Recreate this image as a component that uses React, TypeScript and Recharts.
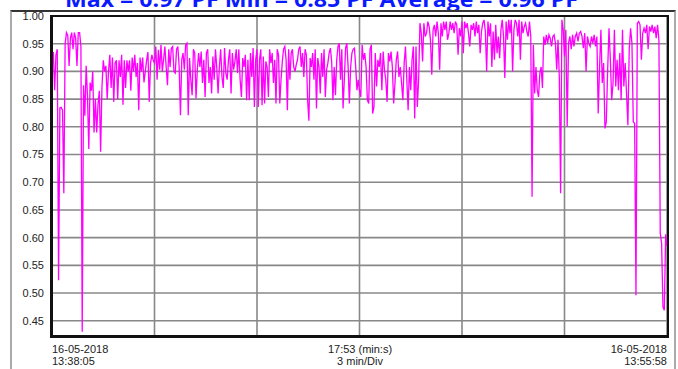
import { CartesianGrid, Line, LineChart, XAxis, YAxis } from "recharts";

// power factor readings, one array per 3 min division
const div0 = [
  0.92, 0.935, 0.866, 0.93, 0.94, 0.523, 0.834, 0.835, 0.83, 0.68, 0.95, 0.97, 0.965, 0.91, 0.96, 0.97,
  0.94, 0.97, 0.96, 0.91, 0.97, 0.97, 0.945, 0.43, 0.875, 0.82, 0.91, 0.855, 0.76, 0.88, 0.865, 0.9,
  0.79, 0.85, 0.79, 0.84, 0.865, 0.755, 0.87, 0.92, 0.9, 0.91, 0.85, 0.9, 0.93, 0.87, 0.925, 0.845,
  0.915, 0.92, 0.85, 0.92, 0.89, 0.93, 0.84, 0.92, 0.87, 0.92, 0.9, 0.92, 0.865, 0.925, 0.9, 0.93,
  0.89, 0.915, 0.83, 0.925, 0.9, 0.925, 0.88, 0.9, 0.92, 0.935, 0.845, 0.915, 0.93, 0.92,
];
const div1 = [
  0.915, 0.945, 0.885, 0.939, 0.903, 0.948, 0.9, 0.921, 0.945, 0.908, 0.875, 0.94, 0.908, 0.942, 0.945, 0.9,
  0.897, 0.94, 0.945, 0.908, 0.821, 0.921, 0.933, 0.903, 0.948, 0.951, 0.821, 0.924, 0.885, 0.857, 0.94, 0.933,
  0.851, 0.903, 0.933, 0.908, 0.936, 0.879, 0.921, 0.854, 0.933, 0.94, 0.879, 0.908, 0.86, 0.927, 0.885, 0.94,
  0.906, 0.86, 0.908, 0.94, 0.89, 0.87, 0.942, 0.897, 0.885, 0.921, 0.94, 0.86, 0.933, 0.903, 0.918, 0.94,
  0.897, 0.94, 0.885, 0.854, 0.924, 0.908, 0.93, 0.848, 0.921, 0.848, 0.933, 0.89, 0.942, 0.836, 0.921,
];
const div2 = [
  0.94, 0.836, 0.921, 0.94, 0.839, 0.927, 0.842, 0.918, 0.908, 0.854, 0.94, 0.915, 0.933, 0.879, 0.921, 0.842,
  0.94, 0.93, 0.842, 0.885, 0.918, 0.94, 0.945, 0.921, 0.83, 0.94, 0.885, 0.933, 0.94, 0.908, 0.9, 0.912,
  0.921, 0.94, 0.945, 0.908, 0.933, 0.89, 0.94, 0.93, 0.848, 0.811, 0.924, 0.908, 0.933, 0.885, 0.94, 0.833,
  0.924, 0.908, 0.86, 0.933, 0.89, 0.94, 0.854, 0.903, 0.915, 0.933, 0.942, 0.918, 0.848, 0.908, 0.857, 0.921,
  0.945, 0.951, 0.885, 0.94, 0.833, 0.885, 0.942, 0.951, 0.908, 0.842, 0.908, 0.933, 0.94, 0.942, 0.908, 0.866,
  0.885,
];
const div3 = [
  0.866, 0.854, 0.948, 0.921, 0.933, 0.908, 0.848, 0.842, 0.94, 0.948, 0.824, 0.836, 0.933, 0.873, 0.921, 0.908,
  0.933, 0.866, 0.936, 0.903, 0.885, 0.845, 0.933, 0.918, 0.936, 0.908, 0.842, 0.879, 0.921, 0.936, 0.89, 0.908,
  0.879, 0.848, 0.915, 0.945, 0.885, 0.83, 0.908, 0.866, 0.921, 0.945, 0.815, 0.945, 0.836, 0.885, 0.987, 0.969,
  0.918, 0.987, 0.963, 0.969, 0.99, 0.981, 0.957, 0.894, 0.975, 0.984, 0.963, 0.99, 0.969, 0.903, 0.987, 0.963,
  0.99, 0.975, 0.99, 0.957, 0.969, 0.99, 0.975, 0.987, 0.969, 0.99, 0.984, 0.93, 0.978, 0.963,
];
const div4 = [
  0.99, 0.933, 0.99, 0.978, 0.987, 0.969, 0.945, 0.984, 0.975, 0.987, 0.963, 0.99, 0.969, 0.984, 0.933, 0.972,
  0.987, 0.993, 0.972, 0.9, 0.99, 0.963, 0.987, 0.908, 0.972, 0.921, 0.984, 0.933, 0.963, 0.924, 0.975, 0.993,
  0.963, 0.888, 0.99, 0.957, 0.993, 0.969, 0.993, 0.9, 0.975, 0.993, 0.987, 0.963, 0.993, 0.921, 0.99, 0.969,
  0.981, 0.987, 0.972, 0.963, 0.99, 0.963, 0.674, 0.948, 0.86, 0.908, 0.866, 0.854, 0.897, 0.908, 0.87, 0.963,
  0.948, 0.966, 0.951, 0.966, 0.96, 0.945, 0.963, 0.966, 0.951, 0.903, 0.957, 0.89, 0.68, 0.993, 0.975,
];
const div5 = [
  0.927, 0.975, 0.8, 0.951, 0.963, 0.94, 0.966, 0.945, 0.963, 0.969, 0.954, 0.969, 0.972, 0.963, 0.942, 0.969,
  0.9, 0.963, 0.951, 0.945, 0.963, 0.951, 0.966, 0.945, 0.963, 0.824, 0.908, 0.975, 0.879, 0.915, 0.797, 0.809,
  0.903, 0.978, 0.921, 0.848, 0.879, 0.975, 0.873, 0.921, 0.866, 0.933, 0.848, 0.975, 0.873, 0.915, 0.86, 0.803,
  0.94, 0.978, 0.951, 0.809, 0.806, 0.496, 0.987, 0.99, 0.984, 0.921, 0.969, 0.978, 0.969, 0.984, 0.94, 0.981,
  0.972, 0.984, 0.969, 0.981, 0.96, 0.984, 0.957, 0.608, 0.59, 0.475, 0.469, 0.606, 0.585,
];
const divisions = [div0, div1, div2, div3, div4, div5];

const yTicks = [0.45, 0.5, 0.55, 0.6, 0.65, 0.7, 0.75, 0.8, 0.85, 0.9, 0.95, 1.0];
const xTicks = [0, 1, 2, 3, 4, 5, 6];

const title = "Max = 0.97 PF  Min = 0.85 PF  Average = 0.96 PF";
const startLabel = ["16-05-2018", "13:38:05"];
const midLabel = ["17:53 (min:s)", "3 min/Div"];
const endLabel = ["16-05-2018", "13:55:58"];

const last = divisions.length - 1;
const data = divisions.flatMap((vals, d) =>
  vals.map((pf, i) => ({ t: d + i / (d === last ? vals.length - 1 : vals.length), pf }))
);

const font = "'Liberation Sans', Arial, sans-serif";
const labelStyle = {
  position: "absolute" as const,
  top: 343,
  fontFamily: font,
  fontSize: 11,
  lineHeight: "12px",
  color: "#222",
};

export default function App() {
  return (
    <div style={{ position: "absolute", left: 0, top: 0, width: 678, height: 369, background: "#fff", overflow: "hidden" }}>
      <svg width={678} height={20} style={{ position: "absolute", left: 0, top: 0 }}>
        <text
          x={65}
          y={7}
          textLength={513}
          lengthAdjust="spacingAndGlyphs"
          fill="#0a1aff"
          fontFamily="'Open Sans', sans-serif"
          fontWeight="bold"
          fontSize={22}
        >
          {title}
        </text>
      </svg>
      <div
        style={{
          position: "absolute",
          left: 10,
          top: 10,
          width: 666,
          height: 370,
          boxSizing: "border-box",
          borderTop: "2px solid #333",
          borderLeft: "2px solid #aaa",
          borderRight: "2px solid #aaa",
        }}
      />
      <div style={{ position: "absolute", left: 0, top: 0 }}>
        <LineChart width={678} height={369} data={data} margin={{ top: 16, right: 11, bottom: 33, left: 12 }}>
          <CartesianGrid stroke="#888" strokeWidth={1.6} />
          <XAxis dataKey="t" type="number" domain={[0, 6]} ticks={xTicks} hide />
          <YAxis
            type="number"
            domain={[0.4225, 1.0]}
            ticks={yTicks}
            width={40}
            tickLine={false}
            axisLine={false}
            tickFormatter={(v: number) => v.toFixed(2)}
            tick={{ fill: "#222", fontSize: 11, fontFamily: font }}
          />
          <Line
            dataKey="pf"
            type="linear"
            stroke="#ff00ff"
            strokeWidth={1.3}
            dot={false}
            isAnimationActive={false}
          />
        </LineChart>
      </div>
      <div
        style={{
          position: "absolute",
          left: 50,
          top: 15,
          width: 619,
          height: 323,
          boxSizing: "border-box",
          borderLeft: "3px solid #111",
          borderRight: "2px solid #111",
          borderTop: "2px solid #111",
          borderBottom: "3px solid #111",
          pointerEvents: "none",
        }}
      />
      <div style={{ ...labelStyle, left: 52 }}>
        {startLabel[0]}
        <br />
        {startLabel[1]}
      </div>
      <div style={{ ...labelStyle, left: 260, width: 200, textAlign: "center" }}>
        {midLabel[0]}
        <br />
        {midLabel[1]}
      </div>
      <div style={{ ...labelStyle, right: 11, textAlign: "right" }}>
        {endLabel[0]}
        <br />
        {endLabel[1]}
      </div>
    </div>
  );
}
